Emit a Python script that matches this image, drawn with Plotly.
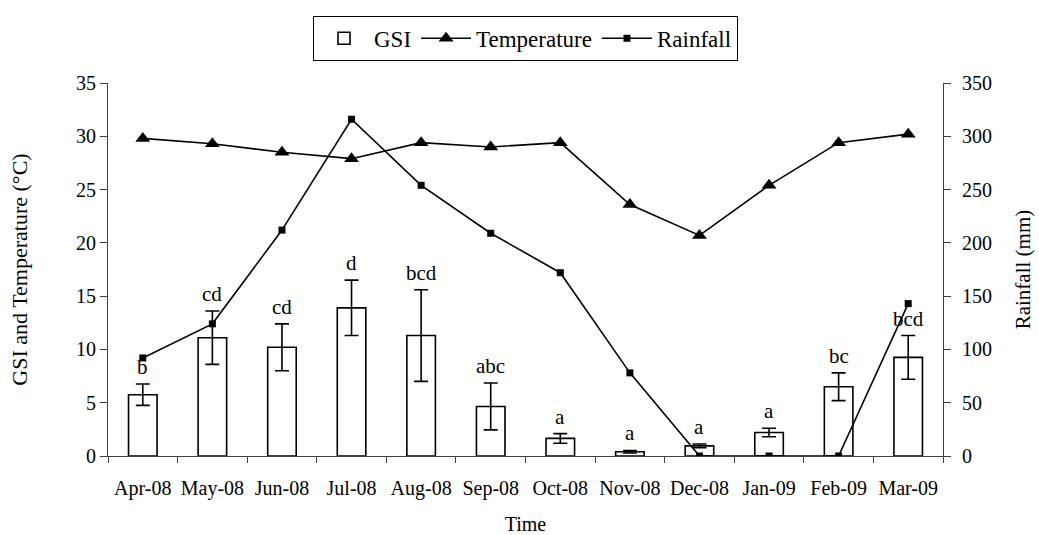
import plotly.graph_objects as go

# Monthly sampling, Apr 2008 - Mar 2009
months = ["Apr-08", "May-08", "Jun-08", "Jul-08", "Aug-08", "Sep-08",
          "Oct-08", "Nov-08", "Dec-08", "Jan-09", "Feb-09", "Mar-09"]

# Gonadosomatic index (mean and standard error) with significance groups
gsi = [5.75, 11.1, 10.2, 13.9, 11.3, 4.65, 1.65, 0.4, 0.95, 2.2, 6.5, 9.25]
gsi_err = [1.0, 2.5, 2.2, 2.6, 4.3, 2.2, 0.45, 0.12, 0.18, 0.4, 1.3, 2.05]
gsi_groups = ["b", "cd", "cd", "d", "bcd", "abc", "a", "a", "a", "a", "bc", "bcd"]

# Monthly mean water temperature (°C)
temperature = [29.8, 29.3, 28.5, 27.9, 29.4, 29.0, 29.4, 23.6, 20.7, 25.4, 29.4, 30.2]

# Monthly rainfall (mm)
rainfall = [92, 124, 212, 316, 254, 209, 172, 78, 0, 0, 0, 143]

FONT = "Liberation Serif, Times New Roman, serif"
INK = "#000000"
AXIS = "#404040"

fig = go.Figure()

fig.add_trace(go.Bar(
    x=months, y=gsi, name="GSI", width=0.41,
    marker=dict(color="white", line=dict(color=INK, width=1.6)),
    error_y=dict(type="data", array=gsi_err, visible=True,
                 color=INK, thickness=1.6, width=7),
    yaxis="y",
))

fig.add_trace(go.Scatter(
    x=months, y=temperature, name="Temperature", mode="lines+markers",
    line=dict(color=INK, width=1.6),
    marker=dict(symbol="triangle-up", size=13, color=INK),
    yaxis="y",
))

fig.add_trace(go.Scatter(
    x=months, y=rainfall, name="Rainfall", mode="lines+markers",
    line=dict(color=INK, width=1.6),
    marker=dict(symbol="square", size=7, color=INK),
    yaxis="y2",
))

# Significance letters above each error bar
for m, g, e, lab in zip(months, gsi, gsi_err, gsi_groups):
    fig.add_annotation(
        x=m, y=g + e, text=lab, showarrow=False, xref="x", yref="y",
        yanchor="bottom", yshift=3,
        font=dict(family=FONT, size=21, color=INK),
    )

fig.update_layout(
    width=1039, height=535,
    margin=dict(l=108, r=96, t=83, b=79),
    paper_bgcolor="white", plot_bgcolor="white",
    font=dict(family=FONT, size=20, color=INK),
    showlegend=True,
    legend=dict(
        orientation="h", x=0.5, xanchor="center", y=1.18, yanchor="top",
        bordercolor=INK, borderwidth=1, bgcolor="white",
        font=dict(family=FONT, size=23, color=INK),
        itemwidth=50, tracegroupgap=0,
    ),
    xaxis=dict(
        type="category", categoryorder="array", categoryarray=months,
        showline=True, linecolor=AXIS, linewidth=1,
        ticks="outside", tickson="boundaries", ticklen=6, tickcolor=AXIS,
        showgrid=False, zeroline=False, automargin=False,
        ticklabelstandoff=14, tickangle=0,
        tickfont=dict(family=FONT, size=20, color=INK),
        title=dict(text="Time", standoff=18,
                   font=dict(family=FONT, size=20, color=INK)),
        range=[-0.5, 11.5],
    ),
    yaxis=dict(
        range=[0, 35], tickvals=[0, 5, 10, 15, 20, 25, 30, 35],
        showline=True, linecolor=AXIS, linewidth=1,
        ticks="outside", ticklen=7, tickcolor=AXIS,
        showgrid=False, zeroline=False, automargin=False,
        tickfont=dict(family=FONT, size=20, color=INK),
        title=dict(text="GSI and Temperature (°C)", standoff=42,
                   font=dict(family=FONT, size=22, color=INK)),
    ),
    yaxis2=dict(
        range=[0, 350], tickvals=[0, 50, 100, 150, 200, 250, 300, 350],
        overlaying="y", side="right",
        showline=True, linecolor=AXIS, linewidth=1,
        ticks="outside", ticklen=7, tickcolor=AXIS,
        showgrid=False, zeroline=False, automargin=False,
        ticklabelstandoff=7,
        tickfont=dict(family=FONT, size=20, color=INK),
        title=dict(text="Rainfall (mm)", standoff=24,
                   font=dict(family=FONT, size=21, color=INK)),
    ),
)

fig.write_html("out.html")
